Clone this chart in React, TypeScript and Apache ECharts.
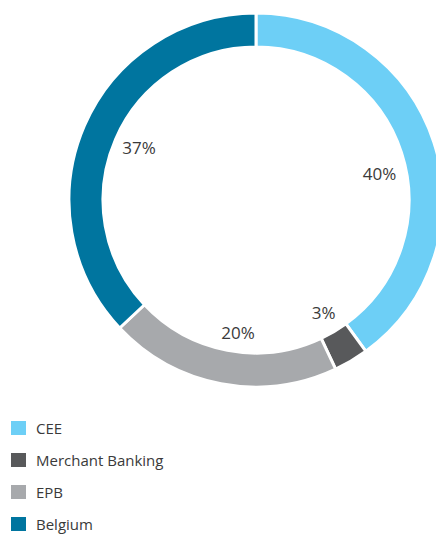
import React, { useEffect, useRef } from "react";
import * as echarts from "echarts";

const categories = ["CEE", "Merchant Banking", "EPB", "Belgium"];
const values = [40, 3, 20, 37];
const colors = ["#6dcff6", "#58595b", "#a7a9ac", "#00759f"];
const labelNudges: [number, number][] = [[-3, 15], [0, -2], [7, 2], [5, 0]];

export default function App() {
  const ref = useRef<HTMLDivElement>(null);
  useEffect(() => {
    document.body.style.margin = "0";
    const chart = echarts.init(ref.current!, null, { renderer: "svg" });
    const data = categories.map((name, i) => ({ name, value: values[i] }));
    const labelData = categories.map((name, i) => ({
      name,
      value: values[i],
      label: { offset: labelNudges[i] },
    }));
    chart.setOption({
      animation: false,
      color: colors,
      legend: {
        orient: "vertical",
        left: 9,
        top: 419,
        height: 130,
        padding: 0,
        itemWidth: 17,
        itemHeight: 16,
        itemGap: 14,
        icon: "rect",
        selectedMode: false,
        textStyle: { fontFamily: "Open Sans", fontSize: 15, color: "#3a3a3a", padding: [0, 0, 0, 4] },
        data: categories,
      },
      series: [
        {
          type: "pie",
          center: [256, 200],
          radius: [153, 187],
          startAngle: 90,
          clockwise: true,
          silent: true,
          itemStyle: { borderColor: "#ffffff", borderWidth: 3 },
          label: { show: false },
          labelLine: { show: false },
          data,
        },
        {
          type: "pie",
          center: [256, 200],
          radius: [0, 260],
          startAngle: 90,
          clockwise: true,
          silent: true,
          itemStyle: { color: "rgba(0,0,0,0)" },
          label: {
            show: true,
            position: "inside",
            formatter: "{c}%",
            fontFamily: "Open Sans",
            fontSize: 17,
            color: "#3a3a3a",
          },
          labelLine: { show: false },
          data: labelData,
        },
      ],
    });
    return () => chart.dispose();
  }, []);
  return <div ref={ref} style={{ position: "absolute", left: 0, top: 0, width: 436, height: 535 }} />;
}
